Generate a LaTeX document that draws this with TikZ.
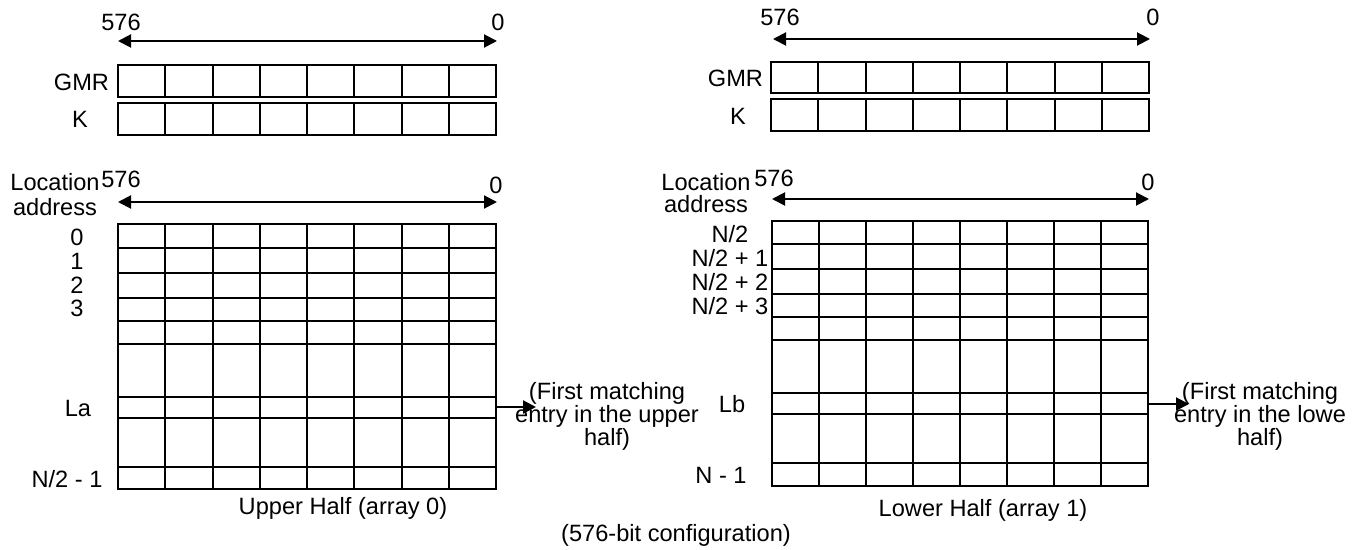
\documentclass[tikz,border=0pt]{standalone}
\usepackage{fontspec}
\setmainfont{Liberation Sans}
\usetikzlibrary{arrows.meta}
\tikzset{
  lbl/.style={inner sep=0pt,font=\fontsize{11.8}{11.5}\selectfont},
  span/.style={{Triangle[length=6.5pt,width=6.5pt]}-{Triangle[length=6.5pt,width=6.5pt]}},
  hit/.style={-{Triangle[length=6.5pt,width=6.5pt]}}
}
\begin{document}
\begin{tikzpicture}[x=0.5pt,y=-0.5pt,line width=1pt]
\useasboundingbox (0,0) rectangle (1359,550);
% upper half (array 0)
\coordinate (ga0) at (118,41);
\coordinate (gb0) at (497,41);
\draw[span] (ga0) -- (gb0);
\node[lbl] (gmsb0) at (121,22) {576};
\node[lbl] (glsb0) at (498,22) {0};
\draw (118,65) rectangle (496,97);
\draw (118,103) rectangle (496,135);
\foreach \i in {1,...,7}
  \draw (118+47.25*\i,65) -- (118+47.25*\i,97) (118+47.25*\i,103) -- (118+47.25*\i,135);
\node[lbl,anchor=east] (gmr0) at (110,82) {GMR};
\node[lbl] (k0) at (80,119) {K};
\node[lbl] (loc0) at (55,182) {Location};
\node[lbl] (adr0) at (55,207) {address};
\coordinate (aa0) at (118,202);
\coordinate (ab0) at (497,202);
\draw[span] (aa0) -- (ab0);
\node[lbl] (amsb0) at (121,179) {576};
\node[lbl] (alsb0) at (496,185) {0};
\draw (118,224) rectangle (496,489);
\foreach \y in {248,273,298,321,344,397,418,467}
  \draw (118,\y) -- (496,\y);
\foreach \i in {1,...,7}
  \draw (118+47.25*\i,224) -- (118+47.25*\i,489);
\node[lbl] (r00) at (77,237) {0};
\node[lbl] (r01) at (77,261) {1};
\node[lbl] (r02) at (77,285) {2};
\node[lbl] (r03) at (77,308) {3};
\node[lbl] (la) at (78,408) {La};
\node[lbl] (rlast0) at (67,479) {N/2 - 1};
\coordinate (hita) at (496,407);
\coordinate (hitb) at (536,407);
\draw[hit] (hita) -- (hitb);
\node[lbl,align=center] (note0) at (607,416) {(First matching\\entry in the upper\\half)};
\node[lbl] (cap0) at (343,508) {Upper Half (array 0)};
% lower half (array 1)
\coordinate (ga1) at (773,39);
\coordinate (gb1) at (1150,39);
\draw[span] (ga1) -- (gb1);
\node[lbl] (gmsb1) at (780,17) {576};
\node[lbl] (glsb1) at (1153,17) {0};
\draw (771,62) rectangle (1149,93);
\draw (771,99) rectangle (1149,131);
\foreach \i in {1,...,7}
  \draw (771+47.25*\i,62) -- (771+47.25*\i,93) (771+47.25*\i,99) -- (771+47.25*\i,131);
\node[lbl,anchor=east] (gmr1) at (764,78) {GMR};
\node[lbl] (k1) at (738,116) {K};
\node[lbl] (loc1) at (706,182) {Location};
\node[lbl] (adr1) at (706,204) {address};
\coordinate (aa1) at (772,199);
\coordinate (ab1) at (1149,199);
\draw[span] (aa1) -- (ab1);
\node[lbl] (amsb1) at (774,178) {576};
\node[lbl] (alsb1) at (1148,182) {0};
\draw (772,221) rectangle (1148,486);
\foreach \y in {244,269,294,317,340,393,414,463}
  \draw (772,\y) -- (1148,\y);
\foreach \i in {1,...,7}
  \draw (772+47*\i,221) -- (772+47*\i,486);
\node[lbl] (r10) at (730,234) {N/2};
\node[lbl] (r11) at (730,258) {N/2 + 1};
\node[lbl] (r12) at (730,282) {N/2 + 2};
\node[lbl] (r13) at (730,306) {N/2 + 3};
\node[lbl] (lb) at (732,404) {Lb};
\node[lbl] (rlast1) at (721,475) {N - 1};
\coordinate (hitc) at (1148,404);
\coordinate (hitd) at (1189,404);
\draw[hit] (hitc) -- (hitd);
\node[lbl,align=center] (note1) at (1260,416) {(First matching\\entry in the lowe\\half)};
\node[lbl] (cap1) at (983,510) {Lower Half (array 1)};
\node[lbl] (cfg) at (676,535) {(576-bit configuration)};
\end{tikzpicture}
\end{document}
